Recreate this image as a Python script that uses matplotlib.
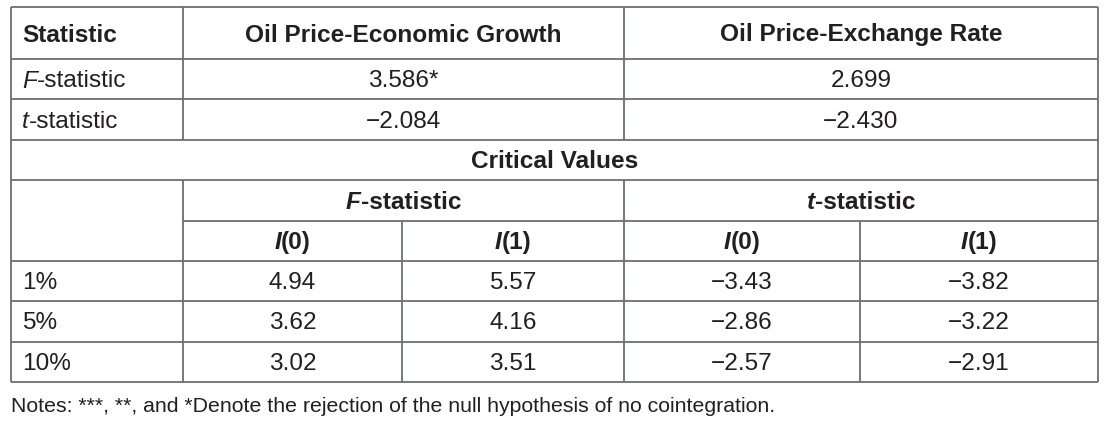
import matplotlib.pyplot as plt

plt.rcParams['font.family'] = ['Liberation Sans', 'DejaVu Sans']

# table contents
col_pairs = ["Oil Price-Economic Growth", "Oil Price-Exchange Rate"]
f_stat = ["3.586*", "2.699"]
t_stat = ["\u22122.084", "\u22122.430"]
levels = ["1%", "5%", "10%"]
f_i0 = ["4.94", "3.62", "3.02"]
f_i1 = ["5.57", "4.16", "3.51"]
t_i0 = ["\u22123.43", "\u22122.86", "\u22122.57"]
t_i1 = ["\u22123.82", "\u22123.22", "\u22122.91"]
note = "Notes: ***, **, and *Denote the rejection of the null hypothesis of no cointegration."

txt = "#231f20"
line = "#6d6e71"
fs = 17.6

fig = plt.figure(figsize=(11.18, 4.27), dpi=100)
ax = fig.add_axes([0, 0, 1, 1])
ax.set_xlim(0, 1118)
ax.set_ylim(427, 0)
ax.axis("off")
fig.canvas.draw()
rend = fig.canvas.get_renderer()

# grid geometry (pixels)
xl, xa, xm, xr = 11, 183, 624, 1098
xf, xt = 402, 860
ys = [8, 60, 100, 141, 181, 222, 262, 302, 343, 383]


def hl(y, x0=xl, x1=xr):
    ax.plot([x0, x1], [y, y], color=line, lw=1.3, solid_capstyle="butt")


def vl(x, y0, y1):
    ax.plot([x, x], [y0, y1], color=line, lw=1.3, solid_capstyle="butt")


for y in ys:
    if y == 222:
        hl(y, xa)
    else:
        hl(y)
vl(xl, ys[0], ys[-1])
vl(xr, ys[0], ys[-1])
vl(xa, ys[0], ys[3])
vl(xa, ys[4], ys[-1])
vl(xm, ys[0], ys[3])
vl(xm, ys[4], ys[-1])
vl(xf, ys[5], ys[-1])
vl(xt, ys[5], ys[-1])


def rich(parts, x, y, ha="center"):
    # parts: list of (string, style, weight)
    widths = []
    for s, st, w in parts:
        t = ax.text(0, 0, s, fontsize=fs, style=st, weight=w)
        bb = t.get_window_extent(rend)
        t.remove()
        widths.append(bb.width)
    total = sum(widths)
    x0 = x - total / 2 if ha == "center" else x
    for (s, st, w), wd in zip(parts, widths):
        ax.text(x0, y, s, fontsize=fs, style=st, weight=w, color=txt,
                ha="left", va="center")
        x0 += wd


def mid(a, b):
    return (a + b) / 2


def cy(i):
    return mid(ys[i], ys[i + 1]) + 1


# header
ax.text(22, cy(0), "Statistic", fontsize=fs, weight="bold", color=txt, va="center")
for x, s in zip([mid(xa, xm), mid(xm, xr)], col_pairs):
    ax.text(x, cy(0), s, fontsize=fs, weight="bold", color=txt, ha="center", va="center")

rich([("F", "italic", "normal"), ("-statistic", "normal", "normal")], 22, cy(1), ha="left")
rich([("t", "italic", "normal"), ("-statistic", "normal", "normal")], 22, cy(2), ha="left")
for x, a, b in zip([mid(xa, xm), mid(xm, xr)], f_stat, t_stat):
    ax.text(x, cy(1), a, fontsize=fs, color=txt, ha="center", va="center")
    ax.text(x, cy(2), b, fontsize=fs, color=txt, ha="center", va="center")

ax.text(mid(xl, xr), cy(3), "Critical Values", fontsize=fs, weight="bold",
        color=txt, ha="center", va="center")
rich([("F", "italic", "bold"), ("-statistic", "normal", "bold")], mid(xa, xm), cy(4))
rich([("t", "italic", "bold"), ("-statistic", "normal", "bold")], mid(xm, xr), cy(4))
for x, k in zip([mid(xa, xf), mid(xf, xm), mid(xm, xt), mid(xt, xr)], ["0", "1", "0", "1"]):
    rich([("I", "italic", "bold"), ("(" + k + ")", "normal", "bold")], x, cy(5))

cols = [f_i0, f_i1, t_i0, t_i1]
xs = [mid(xa, xf), mid(xf, xm), mid(xm, xt), mid(xt, xr)]
for i, lv in enumerate(levels):
    ax.text(22, cy(6 + i), lv, fontsize=fs, color=txt, va="center")
    for x, c in zip(xs, cols):
        ax.text(x, cy(6 + i), c[i], fontsize=fs, color=txt, ha="center", va="center")

ax.text(xl, 407, note, fontsize=15.3, color=txt, va="center")

fig.savefig("out.png", dpi=100)
